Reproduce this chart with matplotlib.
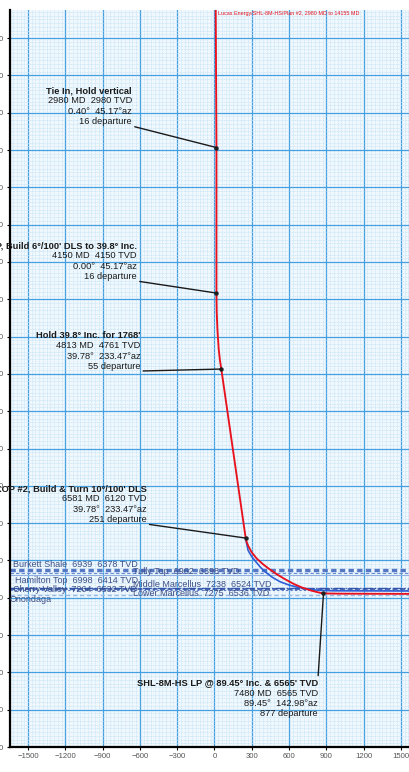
import matplotlib
matplotlib.use('Agg')
import matplotlib.pyplot as plt
from matplotlib.ticker import MultipleLocator

plt.rcParams['font.family'] = ['Liberation Sans', 'DejaVu Sans']

# ---------------- data ----------------
# planned well path (vertical section departure, TVD)
plan_dep = [0, 16, 16, 18, 24, 34, 44, 55, 251, 258, 275, 300, 340, 390, 434, 500,
            566, 640, 700, 780, 849, 877, 1000, 1300, 1700]
plan_tvd = [0, 2980, 4150, 4300, 4450, 4600, 4690, 4761, 6120, 6150, 6190, 6235, 6285,
            6330, 6364, 6410, 6450, 6490, 6516, 6543, 6560, 6565, 6567, 6568, 6569]

# second (blue) path from KOP #2
alt_dep = [251, 258, 270, 300, 334, 370, 408, 465, 525, 600, 675, 760, 838, 950, 1300, 1700]
alt_tvd = [6120, 6160, 6218, 6270, 6312, 6355, 6392, 6435, 6470, 6498, 6517, 6532, 6540,
           6544, 6545, 6546]

# key points
pt_titles = ["Tie In, Hold vertical",
             "KOP, Build 6\u00b0/100' DLS to 39.8\u00b0 Inc.",
             "Hold 39.8\u00b0 Inc. for 1768'",
             "KOP #2, Build & Turn 10\u00b0/100' DLS",
             "SHL-8M-HS LP @ 89.45\u00b0 Inc. & 6565' TVD"]
pt_md = [2980, 4150, 4813, 6581, 7480]
pt_tvd = [2980, 4150, 4761, 6120, 6565]
pt_inc = ["0.40", "0.00", "39.78", "39.78", "89.45"]
pt_az = ["45.17", "45.17", "233.47", "233.47", "142.98"]
pt_dep = [16, 16, 55, 251, 877]

# formation tops
form_names = ["Burkett Shale", "Tully Top", "Hamilton Top", "Middle Marcellus",
              "Cherry Valley", "Lower Marcellus", "Onondaga"]
form_md = ["6939", "6962", "6998", "7238", "7264", "7275", ""]
form_tvd = [6378, 6398, 6414, 6524, 6532, 6536, 6580]

x_ticks = list(range(-1500, 1501, 300))
y_ticks = list(range(2100, 7801, 300))

title_text = "Lucas Energy/SHL-8M-HS/Plan #2, 2980 MD to 14155 MD"

# ---------------- figure ----------------
W, H = 410, 772
fig = plt.figure(figsize=(W / 100, H / 100), dpi=100)
fig.patch.set_facecolor('white')
ax = fig.add_axes([10 / W, 25 / H, 400 / W, 737 / H])
ax.set_facecolor('#f0f8fd')
ax.set_xlim(-1645, 1573)
ax.set_ylim(7800, 1874)

ax.set_xticks(x_ticks)
ax.set_yticks(y_ticks)
ax.xaxis.set_minor_locator(MultipleLocator(30))
ax.yaxis.set_minor_locator(MultipleLocator(30))
ax.grid(which='minor', color='#c2e2f5', lw=0.5, linestyle=(0, (1.5, 1)))
ax.grid(which='major', color='#45a0e2', lw=0.9)
ax.set_axisbelow(True)
ax.tick_params(which='minor', length=0)
ax.tick_params(which='major', labelsize=5.6, labelcolor='#555555', length=2.5,
               width=0.8, pad=2)
for s in ('top', 'right'):
    ax.spines[s].set_visible(False)
ax.spines['left'].set_linewidth(1.6)
ax.spines['bottom'].set_linewidth(1.6)

# formation lines
form_styles = [dict(color='#5577c4', lw=2.4, ls=(0, (1.6, 1.0))),
               dict(color='#6a8ad0', lw=0.8, ls=(0, (3, 2))),
               dict(color='#8fb0e0', lw=0.8, ls='-'),
               dict(color='#3b5cb0', lw=1.0, ls='-.'),
               dict(color='#3050a8', lw=1.2, ls=(0, (3, 1.5))),
               dict(color='#5a78c4', lw=0.8, ls=(0, (2, 2))),
               dict(color='#9ab8e6', lw=1.0, ls=(0, (3, 2)))]
form_label_x = [13, 133, 15, 133, 13, 133, 10]      # pixel x of label left edge
form_label_dy = [6, 1, -6, 4, 0, -4, -4]            # pixel offset from line
for name, md, tvd, st, lx, ldy in zip(form_names, form_md, form_tvd, form_styles,
                                       form_label_x, form_label_dy):
    ax.axhline(tvd, zorder=2, **st)
    label = f"{name}  {md}  {tvd} TVD" if md else name
    ax.annotate(label, xy=(lx / W, tvd), xycoords=('figure fraction', 'data'),
                xytext=(0, ldy), textcoords='offset pixels', ha='left', va='center',
                fontsize=6.5, color='#3d4f86', zorder=3)

# well paths
ax.plot(alt_dep, alt_tvd, color='#2f5fd6', lw=1.2, zorder=4, solid_capstyle='butt')
ax.plot(plan_dep, plan_tvd, color='#e8121e', lw=1.35, zorder=5, solid_capstyle='butt')
ax.annotate(title_text, xy=(plan_dep[1], 1), xycoords=('data', 'axes fraction'),
            xytext=(2, -1), textcoords='offset pixels', ha='left', va='top',
            fontsize=3.9, color='#e8121e', zorder=6)

# annotations
offsets = [(-84.5, 21.5), (-79.5, 12), (-81, -2), (-99, 14), (-5.5, -85)]
LS = 10.3
for i in range(len(pt_titles)):
    xy = (pt_dep[i], pt_tvd[i])
    body = [f"{pt_md[i]} MD  {pt_tvd[i]} TVD",
            f"{pt_inc[i]}\u00b0  {pt_az[i]}\u00b0az",
            f"{pt_dep[i]} departure"]
    dx, dy = offsets[i]
    ax.plot(*xy, 'o', color='#222222', ms=2.2, zorder=7)
    kw = dict(xy=xy, textcoords='offset pixels', ha='right', fontsize=6.7,
              color='#1a1a1a', zorder=7, annotation_clip=False)
    if i < 4:
        # leader from bottom-right of last line
        ax.annotate(body[-1], xytext=(dx, dy), va='bottom',
                    arrowprops=dict(arrowstyle='-', color='#1a1a1a', lw=1.0,
                                    relpos=(1, 0), shrinkA=0, shrinkB=0), **kw)
        for k, line in enumerate(reversed(body[:-1])):
            ax.annotate(line, xytext=(dx, dy + LS * (k + 1)), va='bottom', **kw)
        ax.annotate(pt_titles[i], xytext=(dx, dy + LS * 3), va='bottom',
                    fontweight='bold', **kw)
    else:
        ax.annotate(pt_titles[i], xytext=(dx, dy), va='top', fontweight='bold',
                    arrowprops=dict(arrowstyle='-', color='#1a1a1a', lw=1.0,
                                    relpos=(1, 1), shrinkA=0, shrinkB=0), **kw)
        for k, line in enumerate(body):
            ax.annotate(line, xytext=(dx, dy - LS * (k + 1)), va='top', **kw)

fig.savefig('out.png', dpi=100)
